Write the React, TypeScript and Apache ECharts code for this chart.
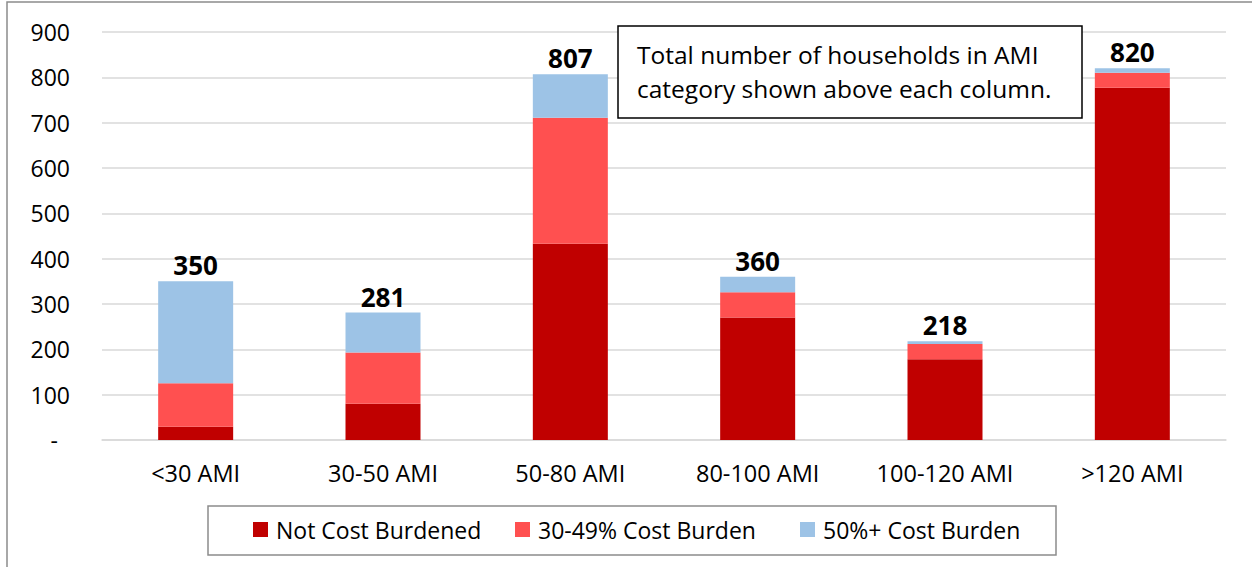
import React, { useEffect, useRef } from "react";
import * as echarts from "echarts";

const categories = ["<30 AMI", "30-50 AMI", "50-80 AMI", "80-100 AMI", "100-120 AMI", ">120 AMI"];
const notBurdened = [29, 80, 433, 270, 178, 777];
const burden30to49 = [96, 113, 278, 56, 34, 33];
const burden50plus = [225, 88, 96, 34, 6, 10];
const totals = [350, 281, 807, 360, 218, 820];
const seriesNames = ["Not Cost Burdened", "30-49% Cost Burden", "50%+ Cost Burden"];
const colors = ["#C00000", "#FF5050", "#9DC3E6"];
const noteLines = ["Total number of households in AMI", "category shown above each column."];

const FONT = "Open Sans";

export default function App() {
  const ref = useRef<HTMLDivElement>(null);
  useEffect(() => {
    if (!ref.current) return;
    const chart = echarts.init(ref.current, null, { renderer: "svg" });
    const values = [notBurdened, burden30to49, burden50plus];
    const legendLefts = [253, 515, 800];
    chart.setOption({
      animation: false,
      backgroundColor: "#fff",
      textStyle: { fontFamily: FONT },
      grid: { left: 102, right: 26, top: 32, bottom: 127 },
      xAxis: {
        type: "category",
        data: categories,
        axisLine: { show: true, lineStyle: { color: "#d9d9d9", width: 1.5 } },
        axisTick: { show: false },
        axisLabel: { color: "#000", fontSize: 23.5, fontFamily: FONT, margin: 21 },
      },
      yAxis: {
        type: "value",
        min: 0,
        max: 900,
        interval: 100,
        axisLine: { show: false },
        axisTick: { show: false },
        splitLine: { lineStyle: { color: "#d9d9d9", width: 1.5 } },
        axisLabel: {
          color: "#000",
          fontSize: 23,
          fontFamily: FONT,
          margin: 32,
          formatter: (v: number) => (v === 0 ? "{d|-}" : String(v)),
          rich: { d: { fontSize: 23, fontFamily: FONT, color: "#000", padding: [0, 12, 0, 0] } },
        },
      },
      legend: seriesNames.map((n, i) => ({
        data: [n],
        left: legendLefts[i],
        top: 518,
        itemWidth: 15,
        itemHeight: 15,
        icon: "rect",
        padding: 0,
        textStyle: { color: "#000", fontSize: 23, fontFamily: FONT, padding: [0, 0, 0, 3] },
      })),
      series: seriesNames.map((n, i) => ({
        name: n,
        type: "bar",
        stack: "total",
        barWidth: 75,
        data: values[i],
        itemStyle: { color: colors[i] },
        label:
          i === 2
            ? {
                show: true,
                position: "top",
                distance: 3,
                color: "#000",
                fontSize: 26,
                fontWeight: "bold",
                fontFamily: FONT,
                formatter: (p: any) => String(totals[p.dataIndex]),
              }
            : { show: false },
      })),
      graphic: [
        {
          type: "rect",
          shape: { x: 7, y: 2, width: 1300, height: 620 },
          style: { fill: "none", stroke: "#8c8c8c", lineWidth: 1.5 },
          silent: true,
        },
        {
          type: "rect",
          shape: { x: 618, y: 26, width: 464, height: 92 },
          style: { fill: "#fff", stroke: "#000", lineWidth: 1.5 },
          z: 10,
        },
        {
          type: "text",
          x: 637,
          y: 37,
          z: 11,
          style: {
            text: noteLines.join("\n"),
            fontSize: 24.5,
            fontFamily: FONT,
            fill: "#000",
            lineHeight: 34,
          },
        },
        {
          type: "rect",
          shape: { x: 208, y: 506, width: 848, height: 49 },
          style: { fill: "none", stroke: "#8c8c8c", lineWidth: 1.5 },
        },
      ],
    });
    return () => chart.dispose();
  }, []);
  return <div ref={ref} style={{ position: "fixed", left: 0, top: 0, width: 1252, height: 567 }} />;
}
